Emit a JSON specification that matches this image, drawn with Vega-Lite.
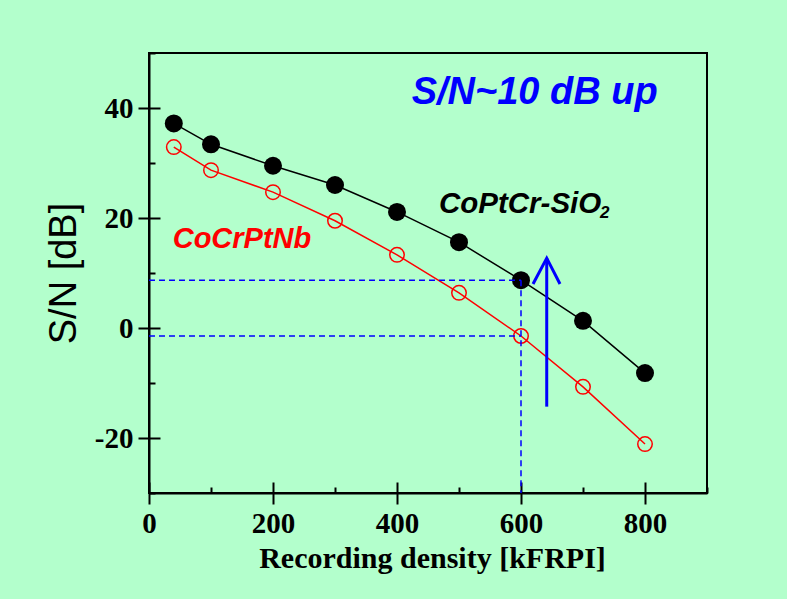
{
  "$schema": "https://vega.github.io/schema/vega-lite/v6.json",
  "width": 558,
  "height": 440,
  "autosize": "none",
  "padding": {"left": 149, "top": 53, "right": 80, "bottom": 106},
  "background": "#b3ffcc",
  "config": {
    "view": {"stroke": "black", "strokeWidth": 2, "fill": null},
    "axis": {
      "grid": false,
      "domainColor": "black",
      "domainWidth": 2,
      "tickColor": "black",
      "tickWidth": 2,
      "labelFont": "Liberation Serif",
      "labelFontWeight": "bold",
      "labelFontSize": 29,
      "labelColor": "black",
      "labelFlush": false,
      "titleColor": "black"
    }
  },
  "datasets": {
    "cocrptnb": [
      {"x": 40, "y": 32.9},
      {"x": 100, "y": 28.7},
      {"x": 200, "y": 24.7},
      {"x": 300, "y": 19.5},
      {"x": 400, "y": 13.3},
      {"x": 500, "y": 6.4},
      {"x": 600, "y": -1.45},
      {"x": 700, "y": -10.7},
      {"x": 800, "y": -21.1}
    ],
    "coptcr": [
      {"x": 40, "y": 37.2},
      {"x": 100, "y": 33.4},
      {"x": 200, "y": 29.5},
      {"x": 300, "y": 26.0},
      {"x": 400, "y": 21.1},
      {"x": 500, "y": 15.6},
      {"x": 600, "y": 8.7},
      {"x": 700, "y": 1.3},
      {"x": 800, "y": -8.2}
    ],
    "guides": [
      {"x": 0, "y": 8.7, "x2": 600, "y2": 8.7},
      {"x": 0, "y": -1.45, "x2": 600, "y2": -1.45},
      {"x": 600, "y": 8.7, "x2": 600, "y2": -30}
    ],
    "shaft": [
      {"x": 641.5, "y": -14.3, "x2": 641.5, "y2": 12.7}
    ],
    "head": [
      {"o": 1, "x": 619.4, "y": 8.0},
      {"o": 2, "x": 641.5, "y": 12.7},
      {"o": 3, "x": 662.9, "y": 8.0}
    ],
    "lbl_up": [{"x": 423.7, "y": 40.73, "t": "S/N~10 dB up"}],
    "lbl_copt": [{"x": 467.7, "y": 20.83, "t": "CoPtCr-SiO"}],
    "lbl_sub": [{"x": 727.5, "y": 20.05, "t": "2"}],
    "lbl_cocr": [{"x": 38.2, "y": 14.57, "t": "CoCrPtNb"}]
  },
  "layer": [
    {
      "data": {"name": "cocrptnb"},
      "mark": {"type": "line", "color": "#ff0000", "strokeWidth": 1.5},
      "encoding": {
        "x": {
          "field": "x", "type": "quantitative",
          "scale": {"domain": [0, 900], "nice": false, "zero": false},
          "axis": {
            "orient": "bottom",
            "values": [0, 200, 400, 600, 800],
            "tickSize": 11,
            "labelPadding": 5,
            "title": "Recording density [kFRPI]",
            "titleFont": "Liberation Serif",
            "titleFontWeight": "bold",
            "titleFontSize": 30,
            "titleBaseline": "alphabetic",
            "titleX": 283,
            "titleY": 74
          }
        },
        "y": {
          "field": "y", "type": "quantitative",
          "scale": {"domain": [-30, 50], "nice": false, "zero": false},
          "axis": {
            "orient": "left",
            "values": [-20, 0, 20, 40],
            "tickSize": 11,
            "labelPadding": 5,
            "labelExpr": "datum.value < 0 ? '-' + abs(datum.value) : '' + datum.value",
            "title": "S/N [dB]",
            "titleFont": "Liberation Sans",
            "titleFontWeight": "normal",
            "titleFontSize": 38,
            "titleBaseline": "alphabetic",
            "titleX": -74,
            "titleY": 220
          }
        }
      }
    },
    {
      "data": {"name": "coptcr"},
      "mark": {"type": "line", "color": "black", "strokeWidth": 1.5},
      "encoding": {
        "x": {
          "field": "x", "type": "quantitative",
          "scale": {"domain": [0, 900], "nice": false, "zero": false},
          "axis": {"orient": "bottom", "values": [0, 200, 400, 600, 800], "tickSize": -11, "labels": false, "domain": false, "title": null}
        },
        "y": {
          "field": "y", "type": "quantitative",
          "scale": {"domain": [-30, 50], "nice": false, "zero": false},
          "axis": {"orient": "left", "values": [-20, 0, 20, 40], "tickSize": -11, "labels": false, "domain": false, "title": null}
        }
      }
    },
    {
      "data": {"name": "coptcr"},
      "mark": {"type": "point", "shape": "circle", "filled": true, "color": "black", "size": 324, "opacity": 1},
      "encoding": {
        "x": {
          "field": "x", "type": "quantitative",
          "scale": {"domain": [0, 900], "nice": false, "zero": false},
          "axis": {"orient": "bottom", "values": [100, 300, 500, 700, 900], "tickSize": -6, "labels": false, "domain": false, "title": null}
        },
        "y": {
          "field": "y", "type": "quantitative",
          "scale": {"domain": [-30, 50], "nice": false, "zero": false},
          "axis": {"orient": "left", "values": [-30, -10, 10, 30, 50], "tickSize": -6, "labels": false, "domain": false, "title": null}
        }
      }
    },
    {
      "data": {"name": "cocrptnb"},
      "mark": {"type": "point", "shape": "circle", "filled": false, "color": "#ff0000", "strokeWidth": 1.5, "size": 210, "opacity": 1},
      "encoding": {
        "x": {"field": "x", "type": "quantitative", "scale": {"domain": [0, 900], "nice": false, "zero": false}, "axis": null},
        "y": {"field": "y", "type": "quantitative", "scale": {"domain": [-30, 50], "nice": false, "zero": false}, "axis": null}
      }
    },
    {
      "data": {"name": "guides"},
      "mark": {"type": "rule", "color": "#0000ff", "strokeWidth": 1.5, "strokeDash": [6, 4]},
      "encoding": {
        "x": {"field": "x", "type": "quantitative", "scale": {"domain": [0, 900], "nice": false, "zero": false}, "axis": null},
        "y": {"field": "y", "type": "quantitative", "scale": {"domain": [-30, 50], "nice": false, "zero": false}, "axis": null},
        "x2": {"field": "x2"},
        "y2": {"field": "y2"}
      }
    },
    {
      "data": {"name": "shaft"},
      "mark": {"type": "rule", "color": "#0000ff", "strokeWidth": 3},
      "encoding": {
        "x": {"field": "x", "type": "quantitative", "scale": {"domain": [0, 900], "nice": false, "zero": false}, "axis": null},
        "y": {"field": "y", "type": "quantitative", "scale": {"domain": [-30, 50], "nice": false, "zero": false}, "axis": null},
        "x2": {"field": "x2"},
        "y2": {"field": "y2"}
      }
    },
    {
      "data": {"name": "head"},
      "mark": {"type": "line", "color": "#0000ff", "strokeWidth": 3},
      "encoding": {
        "x": {"field": "x", "type": "quantitative", "scale": {"domain": [0, 900], "nice": false, "zero": false}, "axis": null},
        "y": {"field": "y", "type": "quantitative", "scale": {"domain": [-30, 50], "nice": false, "zero": false}, "axis": null},
        "order": {"field": "o", "type": "quantitative"}
      }
    },
    {
      "data": {"name": "lbl_up"},
      "mark": {"type": "text", "font": "Liberation Sans", "fontWeight": "bold", "fontStyle": "italic", "fontSize": 38, "color": "#0000ff", "align": "left", "baseline": "alphabetic"},
      "encoding": {
        "x": {"field": "x", "type": "quantitative", "scale": {"domain": [0, 900], "nice": false, "zero": false}, "axis": null},
        "y": {"field": "y", "type": "quantitative", "scale": {"domain": [-30, 50], "nice": false, "zero": false}, "axis": null},
        "text": {"field": "t"}
      }
    },
    {
      "data": {"name": "lbl_copt"},
      "mark": {"type": "text", "font": "Liberation Sans", "fontWeight": "bold", "fontStyle": "italic", "fontSize": 29.5, "color": "black", "align": "left", "baseline": "alphabetic"},
      "encoding": {
        "x": {"field": "x", "type": "quantitative", "scale": {"domain": [0, 900], "nice": false, "zero": false}, "axis": null},
        "y": {"field": "y", "type": "quantitative", "scale": {"domain": [-30, 50], "nice": false, "zero": false}, "axis": null},
        "text": {"field": "t"}
      }
    },
    {
      "data": {"name": "lbl_sub"},
      "mark": {"type": "text", "font": "Liberation Sans", "fontWeight": "bold", "fontStyle": "italic", "fontSize": 17, "color": "black", "align": "left", "baseline": "alphabetic"},
      "encoding": {
        "x": {"field": "x", "type": "quantitative", "scale": {"domain": [0, 900], "nice": false, "zero": false}, "axis": null},
        "y": {"field": "y", "type": "quantitative", "scale": {"domain": [-30, 50], "nice": false, "zero": false}, "axis": null},
        "text": {"field": "t"}
      }
    },
    {
      "data": {"name": "lbl_cocr"},
      "mark": {"type": "text", "font": "Liberation Sans", "fontWeight": "bold", "fontStyle": "italic", "fontSize": 29, "color": "#ff0000", "align": "left", "baseline": "alphabetic"},
      "encoding": {
        "x": {"field": "x", "type": "quantitative", "scale": {"domain": [0, 900], "nice": false, "zero": false}, "axis": null},
        "y": {"field": "y", "type": "quantitative", "scale": {"domain": [-30, 50], "nice": false, "zero": false}, "axis": null},
        "text": {"field": "t"}
      }
    }
  ],
  "resolve": {"axis": {"x": "independent", "y": "independent"}}
}
